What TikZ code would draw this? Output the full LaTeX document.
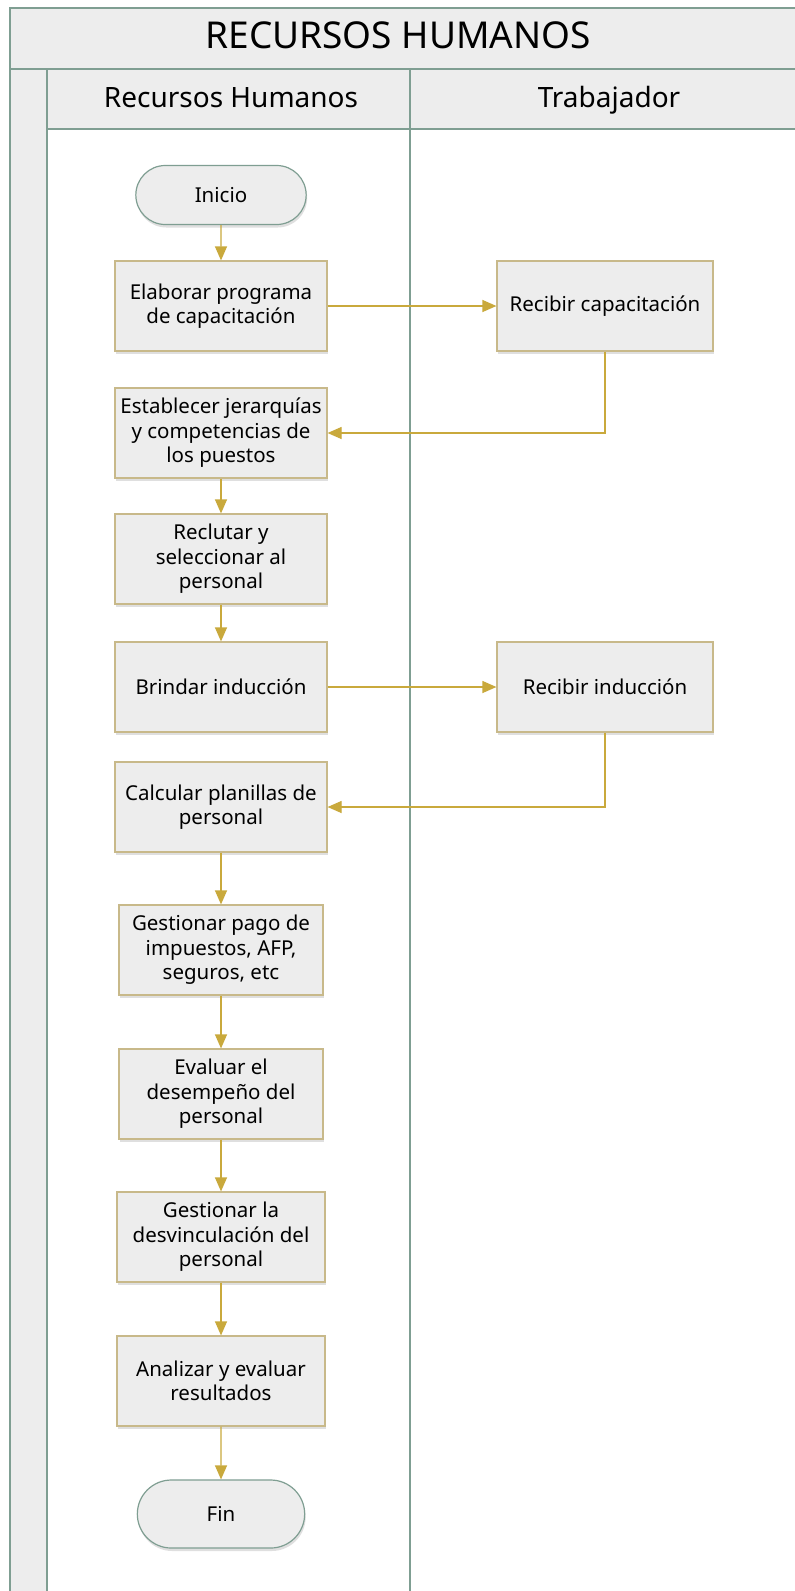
\documentclass[tikz,border=0pt]{standalone}
\usepackage{fontspec}
\setmainfont{Noto Sans}
\usetikzlibrary{arrows.meta,shadows,shapes.misc}
\definecolor{lane}{HTML}{7F9E92}
\definecolor{band}{HTML}{EDEDED}
\definecolor{gold}{HTML}{C9A93C}
\definecolor{tan}{HTML}{C8B98A}
\begin{document}
\begin{tikzpicture}[x=1pt,y=-1pt,>={Triangle[width=12pt,length=14pt]},
	proc/.style={draw=tan,line width=1.2pt,fill=band,minimum width=212pt,minimum height=90pt,
		align=center,inner sep=2pt,font=\fontsize{20.5}{24.5}\selectfont,
		drop shadow={shadow xshift=1pt,shadow yshift=-3pt,opacity=0.25}},
	term/.style={rounded rectangle,draw=lane,line width=1.2pt,fill=band,minimum width=177pt,minimum height=59pt,
		font=\fontsize{20.5}{24.5}\selectfont,
		drop shadow={shadow xshift=1pt,shadow yshift=-3pt,opacity=0.25}},
	flow/.style={gold,line width=1.2pt,->}]
\useasboundingbox (0,0) rectangle (795,1591);
\fill[white] (0,0) rectangle (795,1591);
% pool and lanes
\fill[band] (10,8) rectangle (800,69);
\fill[band] (10,69) rectangle (47,1600);
\fill[band] (47,69) rectangle (800,129);
\begin{scope}[lane,line width=1.5pt]
\draw (800,8) -- (10,8) -- (10,1600);
\draw (10,69) -- (800,69);
\draw (47,69) -- (47,1600);
\draw (410,69) -- (410,1600);
\draw (47,129) -- (800,129);
\end{scope}
\node[anchor=base] (title) at (398,48) {\fontsize{37}{40}\selectfont RECURSOS HUMANOS};
\node[anchor=base] (laneRH) at (231,107) {\fontsize{28}{30}\selectfont Recursos Humanos};
\node[anchor=base] (laneT) at (609,107) {\fontsize{28}{30}\selectfont Trabajador};
% nodes
\node[term] (inicio) at (221,195) {Inicio};
\node[proc] (elab) at (221,306) {Elaborar programa\\de capacitación};
\node[proc,minimum width=216pt] (rcap) at (605,306) {Recibir capacitación};
\node[proc] (estab) at (221,433) {Establecer jerarquías\\y competencias de\\los puestos};
\node[proc] (recl) at (221,559) {Reclutar y\\seleccionar al\\personal};
\node[proc] (brind) at (221,687) {Brindar inducción};
\node[proc,minimum width=216pt] (rind) at (605,687) {Recibir inducción};
\node[proc] (calc) at (221,807) {Calcular planillas de\\personal};
\node[proc,minimum width=204pt] (gpago) at (221,950) {Gestionar pago de\\impuestos, AFP,\\seguros, etc};
\node[proc,minimum width=204pt] (evalu) at (221,1094) {Evaluar el\\desempeño del\\personal};
\node[proc,minimum width=208pt] (desv) at (221,1237) {Gestionar la\\desvinculación del\\personal};
\node[proc,minimum width=208pt] (anal) at (221,1381) {Analizar y evaluar\\resultados};
\node[term,minimum width=174pt,minimum height=68pt] (fin) at (221,1514) {Fin};
% connectors
\draw[flow] (inicio) -- (elab);
\draw[flow] (elab) -- (rcap);
\draw[flow] (rcap.south) |- (estab.east);
\draw[flow] (estab) -- (recl);
\draw[flow] (recl) -- (brind);
\draw[flow] (brind) -- (rind);
\draw[flow] (rind.south) |- (calc.east);
\draw[flow] (calc) -- (gpago);
\draw[flow] (gpago) -- (evalu);
\draw[flow] (evalu) -- (desv);
\draw[flow] (desv) -- (anal);
\draw[flow] (anal) -- (fin);
\end{tikzpicture}
\end{document}
